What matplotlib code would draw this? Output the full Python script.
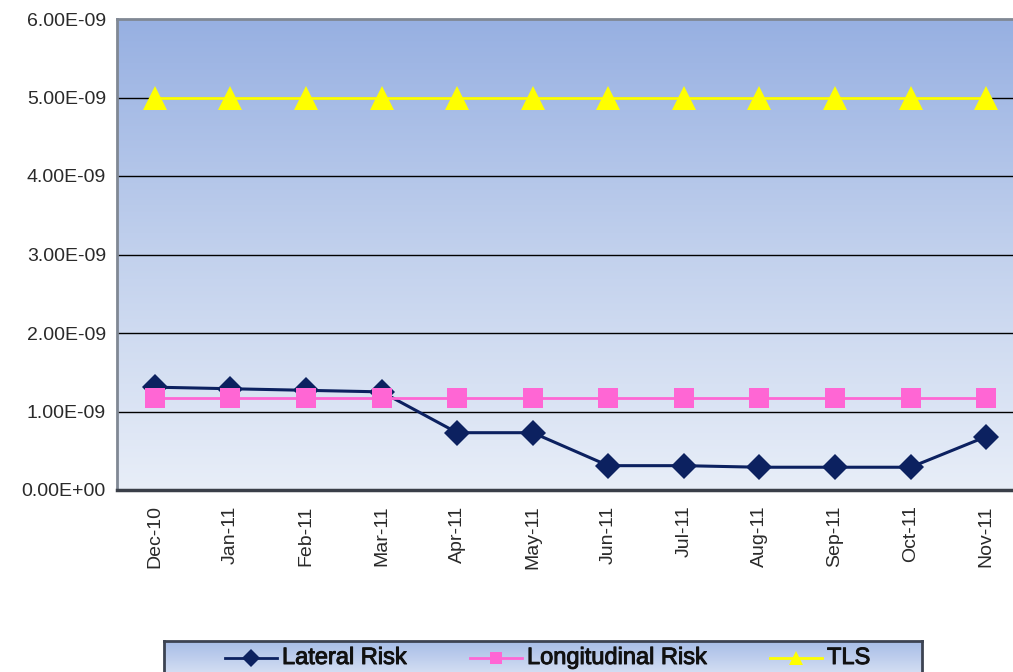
import numpy as np
import matplotlib
matplotlib.use("Agg")
import matplotlib.pyplot as plt
import matplotlib.patheffects as pe
from matplotlib.colors import LinearSegmentedColormap

months = ["Dec-10", "Jan-11", "Feb-11", "Mar-11", "Apr-11", "May-11",
          "Jun-11", "Jul-11", "Aug-11", "Sep-11", "Oct-11", "Nov-11"]
lateral_risk = [1.31e-9, 1.29e-9, 1.27e-9, 1.25e-9, 0.73e-9, 0.73e-9,
                0.31e-9, 0.31e-9, 0.29e-9, 0.29e-9, 0.29e-9, 0.68e-9]
longitudinal_risk = [1.17e-9] * 12
tls = [5.0e-9] * 12
y_ticks = [0, 1e-9, 2e-9, 3e-9, 4e-9, 5e-9, 6e-9]
y_tick_labels = ["0.00E+00", "1.00E-09", "2.00E-09", "3.00E-09",
                 "4.00E-09", "5.00E-09", "6.00E-09"]

plt.rcParams["font.family"] = ["Liberation Sans", "DejaVu Sans"]

W, H = 1013, 672
fig = plt.figure(figsize=(W / 100, H / 100), dpi=100)
fig.patch.set_facecolor("white")

# plot area in pixels: left 117, right ~1024 (runs past the edge), top 19, bottom 490
left, right, top, bottom = 117, 1024, 19, 490
ax = fig.add_axes([left / W, 1 - bottom / H, (right - left) / W, (bottom - top) / H])

# vertical gradient background
grad = LinearSegmentedColormap.from_list("bg", ["#e8eef8", "#c2d1ed", "#97b0e2"])
ax.imshow(np.linspace(0, 1, 256).reshape(-1, 1), cmap=grad, origin="lower",
          extent=[0, 1, 0, 1], transform=ax.transAxes, aspect="auto", zorder=0)

x = np.arange(len(months))
ax.set_xlim(-0.5, len(months) - 0.5)
ax.set_ylim(0, 6e-9)

for yv in y_ticks[1:-1]:
    ax.axhline(yv, color="black", lw=1.0, zorder=1)

ax.plot(x, tls, color="#ffff00", lw=2, marker="^", ms=17,
        markeredgewidth=0, zorder=3)
ax.plot(x, lateral_risk, color="#0c2160", lw=2.2, marker="D", ms=13,
        markeredgewidth=0, zorder=4)
ax.plot(x, longitudinal_risk, color="#ff66d4", lw=2, marker="s", ms=14,
        markeredgewidth=0, zorder=5)

ax.set_yticks(y_ticks)
ax.set_yticklabels(y_tick_labels, fontsize=14, color="#2a2a2a")
ax.set_xticks(x)
ax.set_xticklabels(months, rotation=90, fontsize=14, color="#2a2a2a")
ax.tick_params(axis="both", length=0)
ax.tick_params(axis="y", pad=8)
ax.tick_params(axis="x", pad=11)

for side in ["left", "top", "right"]:
    ax.spines[side].set_color("#808894")
    ax.spines[side].set_linewidth(2)
ax.spines["bottom"].set_color("#3a3f48")
ax.spines["bottom"].set_linewidth(2.5)

# legend box with its own gradient
lx0, lx1, ly0, ly1 = 164, 922, 641, 680
lax = fig.add_axes([lx0 / W, 1 - ly1 / H, (lx1 - lx0) / W, (ly1 - ly0) / H])
lgrad = LinearSegmentedColormap.from_list("lg", ["#dde5f5", "#a7bde7"])
lax.imshow(np.linspace(0, 1, 64).reshape(-1, 1), cmap=lgrad, origin="lower",
           extent=[0, 1, 0, 1], aspect="auto", zorder=0)
lax.set_xlim(0, 1)
lax.set_ylim(0, 1)
lax.set_xticks([])
lax.set_yticks([])
for s in lax.spines.values():
    s.set_color("#3c4352")
    s.set_linewidth(2)

legend_items = [
    ("Lateral Risk", "#0c2160", "D", 9, 225),
    ("Longitudinal Risk", "#ff66d4", "s", 9, 470),
    ("TLS", "#ffff00", "^", 10, 770),
]
yl = 1 - (658 - ly0) / (ly1 - ly0)
for label, col, mk, ms, px in legend_items:
    xa = (px - lx0) / (lx1 - lx0)
    xb = (px + 52 - lx0) / (lx1 - lx0)
    lax.plot([xa, xb], [yl, yl], color=col, lw=2, zorder=2)
    lax.plot([(xa + xb) / 2], [yl], color=col, marker=mk, ms=ms,
             markeredgewidth=0, zorder=3)
    lax.text(xb + 5 / (lx1 - lx0), yl, label, ha="left", va="center",
             fontsize=17, color="#111111",
             path_effects=[pe.withStroke(linewidth=0.7, foreground="#111111")])

fig.savefig("out.png", dpi=100)
